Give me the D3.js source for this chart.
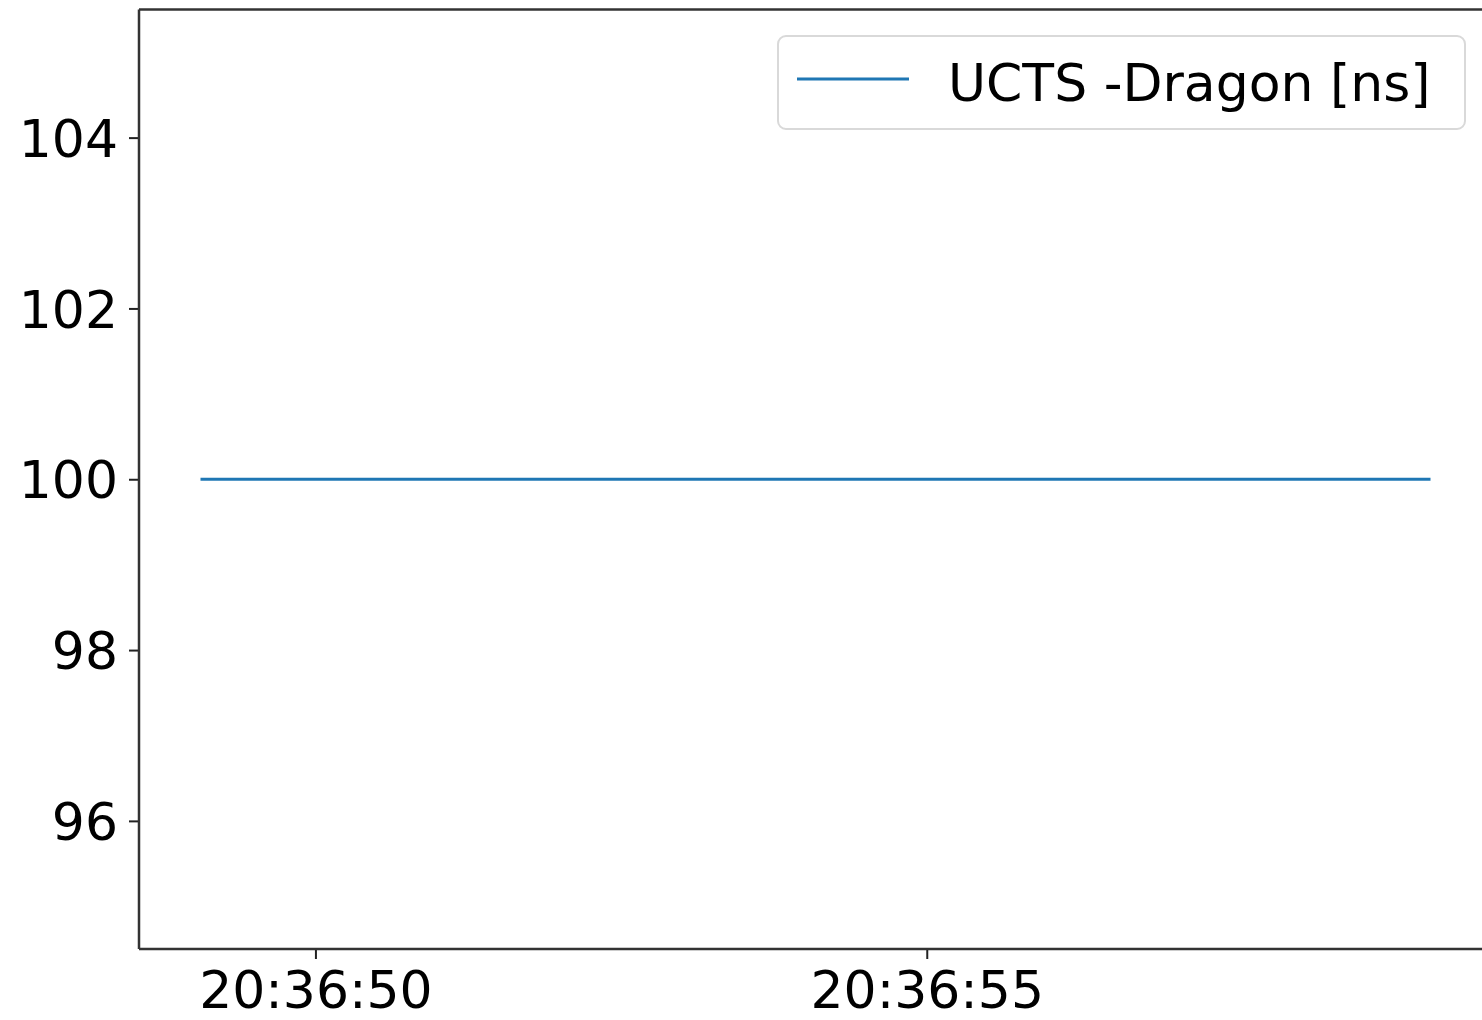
<!DOCTYPE html>
<html>
<head>
<meta charset="utf-8">
<script src="https://cdn.jsdelivr.net/npm/d3@7"></script>
<style>
  body { margin: 0; background: #fff; }
  svg { display: block; }
  text { font-family: "DejaVu Sans", sans-serif; }
</style>
</head>
<body>
<div id="chart"></div>
<script>
// time stamps of the events and the measured UCTS - Dragon difference
const times = [
  '20:36:49.060', '20:36:50.070', '20:36:51.080', '20:36:52.080',
  '20:36:53.090', '20:36:54.090', '20:36:55.100', '20:36:56.100',
  '20:36:57.110', '20:36:58.110', '20:36:59.120'
]
const diffs = [100, 100, 100, 100, 100, 100, 100, 100, 100, 100, 100]
const seriesName = 'UCTS -Dragon [ns]'
const yTicks = [96, 98, 100, 102, 104]

const totalWidth = 1482
const totalHeight = 1020

// the right edge of the axes sits just past the picture
const margin = { top: 9.5, right: -10, bottom: 71, left: 139 }
const width = totalWidth - margin.left - margin.right
const height = totalHeight - margin.top - margin.bottom

const parseTime = d3.timeParse('%H:%M:%S.%L')
const datapoints = times.map((t, i) => ({ time: parseTime(t), value: diffs[i] }))

const svg = d3
  .select('#chart')
  .append('svg')
  .attr('width', totalWidth)
  .attr('height', totalHeight)
  .append('g')
  .attr('transform', 'translate(' + margin.left + ',' + margin.top + ')')

// matplotlib style 5% padding on the x range
const ext = d3.extent(datapoints, d => d.time)
const pad = (ext[1] - ext[0]) * 0.05
const xPositionScale = d3
  .scaleTime()
  .domain([new Date(+ext[0] - pad), new Date(+ext[1] + pad)])
  .range([0, width])

const yPositionScale = d3.scaleLinear().domain([94.5, 105.5]).range([height, 0])

const line = d3
  .line()
  .x(d => xPositionScale(d.time))
  .y(d => yPositionScale(d.value))

svg
  .append('path')
  .datum(datapoints)
  .attr('d', line)
  .attr('fill', 'none')
  .attr('stroke', '#1f77b4')
  .attr('stroke-width', 3)

const xAxis = d3
  .axisBottom(xPositionScale)
  .ticks(d3.timeSecond.every(5))
  .tickFormat(d3.timeFormat('%H:%M:%S'))
  .tickSize(10)
  .tickSizeOuter(0)
  .tickPadding(8)

const yAxis = d3
  .axisLeft(yPositionScale)
  .tickValues(yTicks)
  .tickSize(10)
  .tickSizeOuter(0)
  .tickPadding(11)

svg
  .append('g')
  .attr('class', 'axis x-axis')
  .attr('transform', 'translate(0,' + height + ')')
  .call(xAxis)

svg
  .append('g')
  .attr('class', 'axis y-axis')
  .call(yAxis)

svg.selectAll('.axis .domain').remove()
svg.selectAll('.axis line').attr('stroke', '#222').attr('stroke-width', 2)
svg
  .selectAll('.axis text')
  .attr('fill', '#000')
  .style('font-size', '52px')
  .style('font-family', '"DejaVu Sans", sans-serif')
svg.selectAll('.x-axis text').attr('dy', '0.78em')
svg.selectAll('.y-axis text').attr('dy', '0.36em')

// spines
const spines = [
  [0, 0, width, 0],
  [0, 0, 0, height],
  [0, height, width, height],
  [width, 0, width, height]
]
svg
  .selectAll('.spine')
  .data(spines)
  .enter()
  .append('line')
  .attr('class', 'spine')
  .attr('x1', d => d[0])
  .attr('y1', d => d[1])
  .attr('x2', d => d[2])
  .attr('y2', d => d[3])
  .attr('stroke', '#333')
  .attr('stroke-width', 2.5)

// legend, top right
const legend = svg.append('g').attr('transform', 'translate(' + (778 - margin.left) + ',' + (36 - margin.top) + ')')

legend
  .append('rect')
  .attr('width', 687)
  .attr('height', 93)
  .attr('rx', 8)
  .attr('fill', 'white')
  .attr('fill-opacity', 0.8)
  .attr('stroke', '#d9d9d9')
  .attr('stroke-width', 2)

legend
  .append('line')
  .attr('x1', 19)
  .attr('x2', 131)
  .attr('y1', 43)
  .attr('y2', 43)
  .attr('stroke', '#1f77b4')
  .attr('stroke-width', 3)

legend
  .append('text')
  .attr('x', 170)
  .attr('y', 65)
  .style('font-size', '52px')
  .attr('fill', '#000')
  .text(seriesName)
</script>
</body>
</html>
